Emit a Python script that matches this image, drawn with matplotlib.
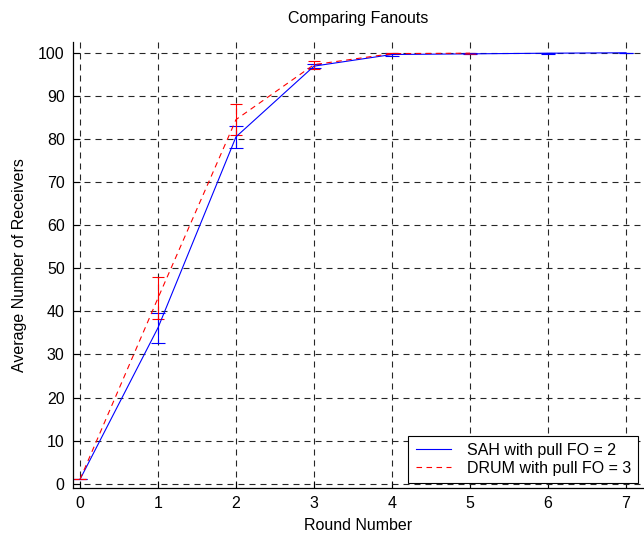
import numpy as np
import matplotlib.pyplot as plt
from matplotlib.lines import Line2D

plt.rcParams['font.family'] = ['Liberation Sans', 'DejaVu Sans']

# SAH with pull, fanout 2
sah_rounds = [0, 1, 2, 3, 4, 5, 6, 7]
sah_mean = [1, 36.2, 80.5, 96.9, 99.6, 99.75, 99.9, 100]
sah_err = [0, 3.5, 2.5, 0.5, 0.25, 0.15, 0.1, 0]

# DRUM with pull, fanout 3
drum_rounds = [0, 1, 2, 3, 4, 5]
drum_mean = [1, 43.1, 84.5, 97.25, 99.8, 99.9]
drum_err = [0, 4.9, 3.6, 0.95, 0.2, 0.1]

x_ticks = [0, 1, 2, 3, 4, 5, 6, 7]
y_ticks = [0, 10, 20, 30, 40, 50, 60, 70, 80, 90, 100]
labels = ['SAH with pull FO = 2', 'DRUM with pull FO = 3']

fig = plt.figure(figsize=(6.44, 5.36), dpi=100)
ax = fig.add_axes([73 / 644, 48 / 536, 1 - 73 / 644, 446 / 536])

dash = (0, (5, 4))
ax.errorbar(sah_rounds, sah_mean, yerr=sah_err, color='#0000ff', lw=0.8,
            elinewidth=0.8, capsize=5, capthick=0.8)
ax.errorbar(drum_rounds, drum_mean, yerr=drum_err, color='#ff0000', lw=0.8,
            elinewidth=0.8, capsize=4, capthick=0.8, linestyle=dash)

ax.set_xlim(-0.09, 7.23)
ax.set_ylim(-1, 102.5)
ax.set_xticks(x_ticks)
ax.set_yticks(y_ticks)
ax.grid(True, color='0.15', lw=0.8, linestyle=(0, (5.4, 4.5)))
ax.set_axisbelow(True)

for s in ('top', 'right'):
    ax.spines[s].set_visible(False)
ax.spines['left'].set_linewidth(0.9)
ax.spines['bottom'].set_linewidth(0.9)
ax.tick_params(direction='in', length=5, width=0.8, labelsize=11.5, pad=6)

ax.set_xlabel('Round Number', fontsize=11.5, labelpad=5)
ax.set_ylabel('Average Number of Receivers', fontsize=11.5, labelpad=8)
ax.set_title('Comparing Fanouts', fontsize=11.5, pad=14)

handles = [Line2D([], [], color='#0000ff', lw=0.8),
           Line2D([], [], color='#ff0000', lw=0.8, linestyle=dash)]
leg = ax.legend(handles, labels, loc='lower right', fontsize=11.5,
                frameon=True, fancybox=False, edgecolor='black',
                framealpha=1, borderaxespad=0.3, handlelength=2.2,
                handletextpad=1.0, borderpad=0.45, labelspacing=0.2,
                bbox_to_anchor=(0.998, 0))
leg.get_frame().set_linewidth(0.8)

fig.savefig('out.png', dpi=100)
